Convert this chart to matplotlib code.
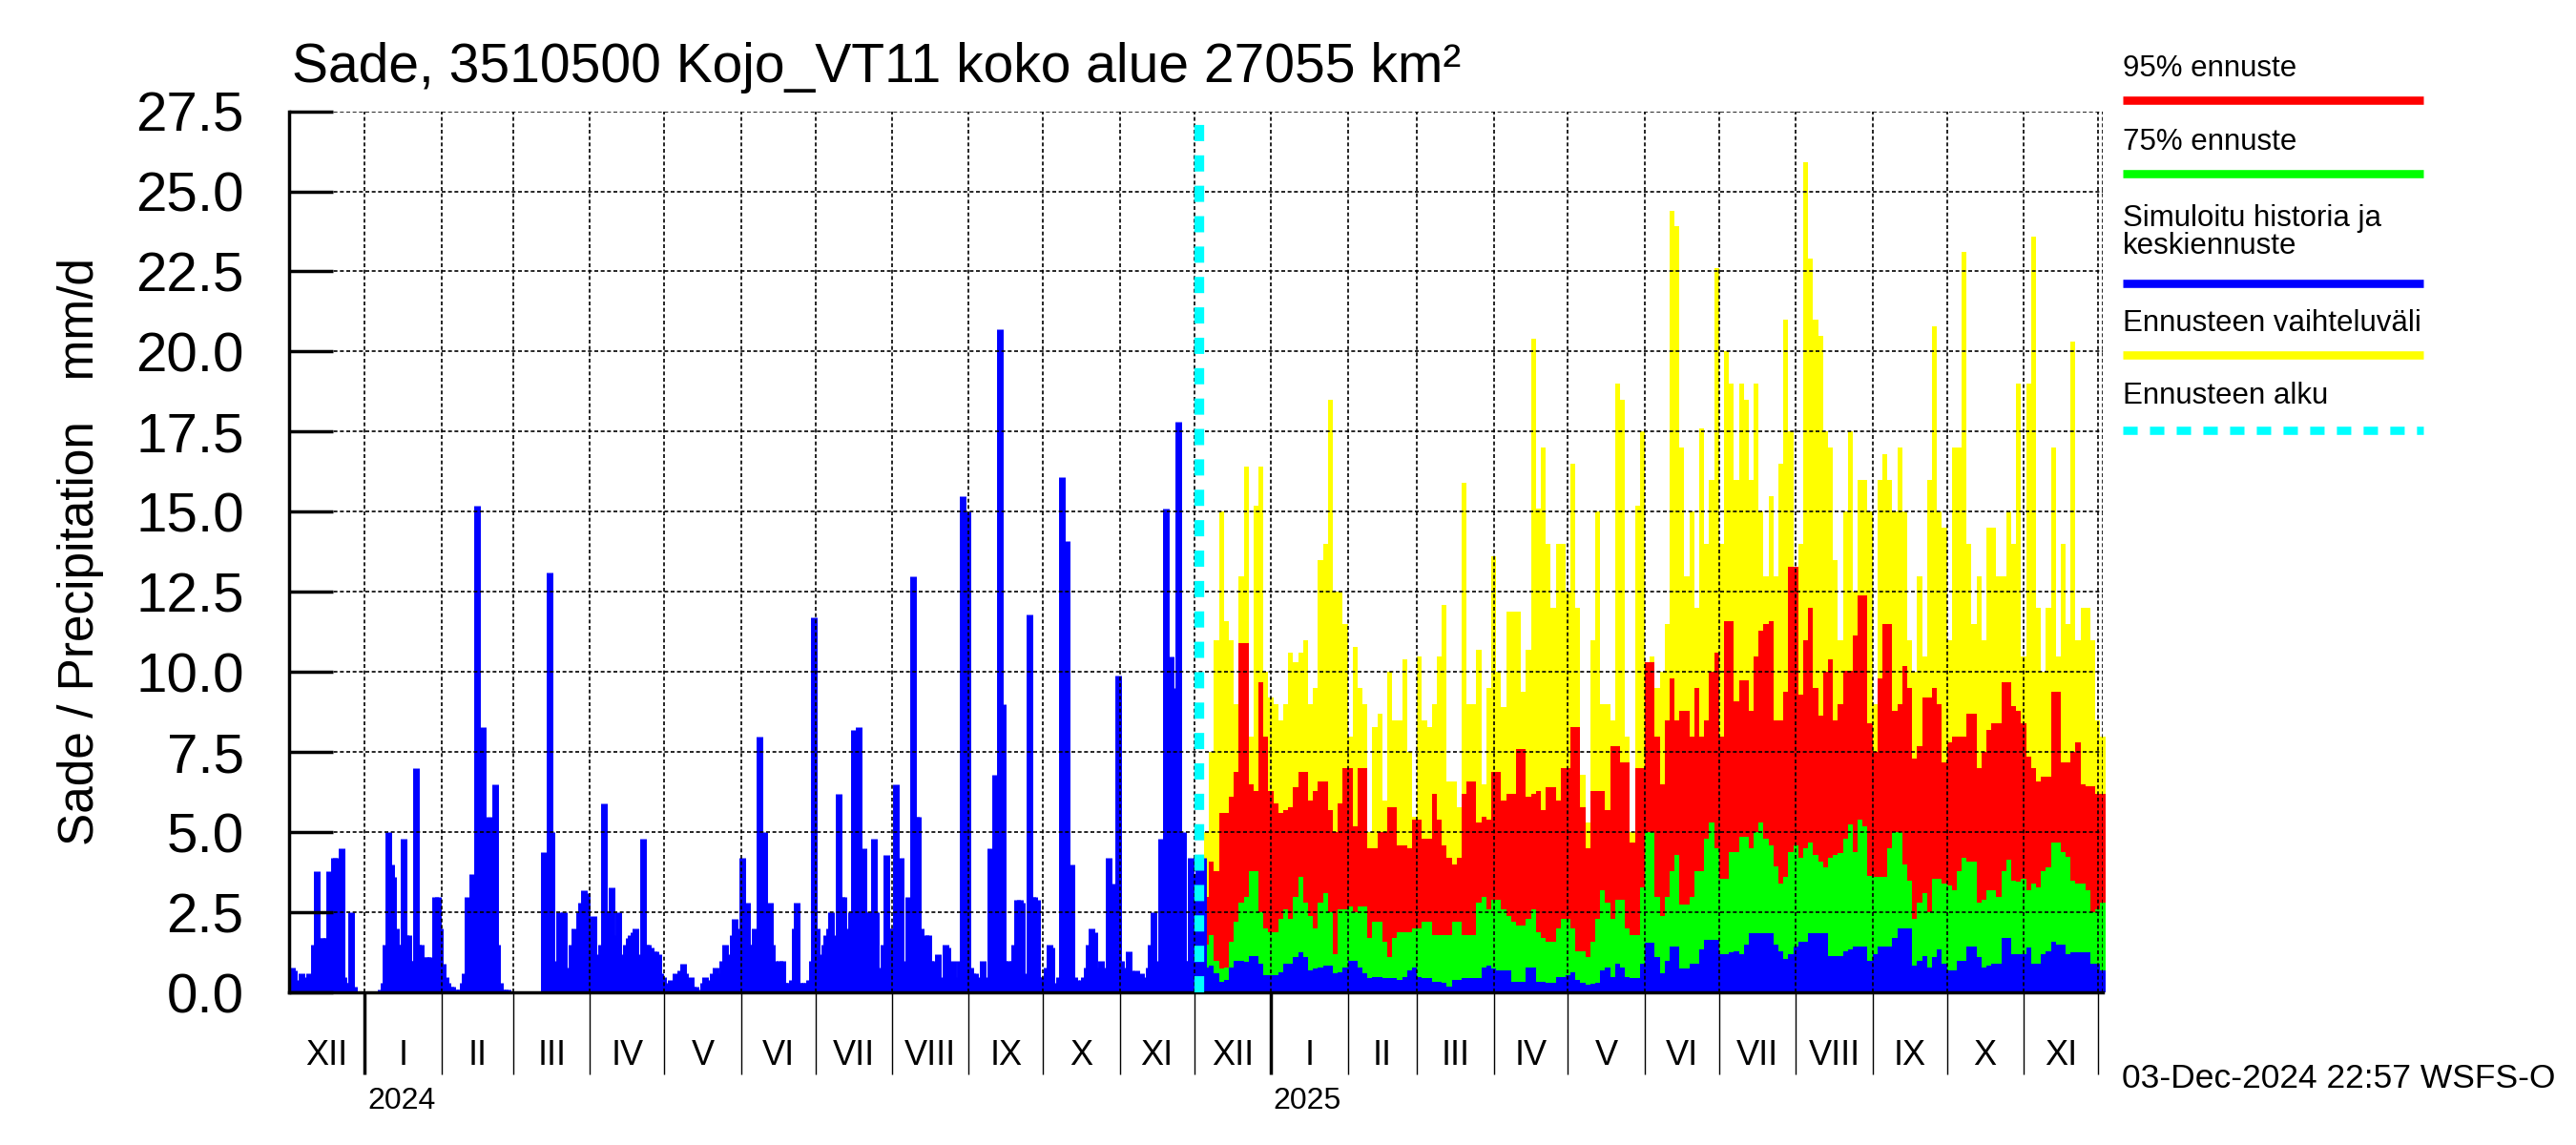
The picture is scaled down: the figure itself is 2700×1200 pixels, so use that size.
import numpy as np
import matplotlib
matplotlib.use('Agg')
import matplotlib.pyplot as plt
import matplotlib.dates as mdates
import matplotlib.transforms as mtrans
from matplotlib.lines import Line2D

FONT = 'Liberation Sans'

# --- observed / simulated history, daily mm/d ---
hist_start = np.datetime64('2023-12-01')
hist_dec23 = [0.6, 0.8, 0.7, 0.4, 0.3, 0.6, 0.2, 0.5, 0.6, 0.5, 1.5, 3.8, 0.7, 1.7, 1.7, 1.7,
              3.8, 0.7, 4.2, 4.2, 0.5, 4.5, 0.5, 0.3, 0.3, 2.5, 0.2, 0, 0, 0, 0]
hist_jan24 = [0, 0, 0, 0, 0, 0, 0.1, 0.3, 1.5, 5.0, 4.0, 3.6, 2.0, 1.5, 1.5, 4.8, 1.8, 1.8,
              1.0, 1.0, 7.0, 1.5, 1.5, 0.5, 1.1, 1.1, 1.1, 0.6, 3.0, 3.0, 2.0]
hist_feb24 = [0.9, 0.5, 0.3, 0.2, 0.2, 0.1, 0.1, 0.1, 0.3, 0.6, 3.0, 1.5, 3.7, 1.5, 15.2,
              5.4, 8.3, 5.4, 5.4, 5.5, 1.5, 6.5, 1.5, 0.3, 0.1, 0.1, 0.1, 0.05, 0.05]
hist_mar24 = [0.05, 0.05, 0.05, 0.05, 0.05, 0.05, 0.05, 0.05, 0.05, 0.05, 0.05, 0.05, 4.4,
              2.0, 13.1, 5.0, 1.0, 0.8, 2.5, 0.8, 2.5, 0.8, 0.7, 1.5, 2.0, 1.8, 2.5, 2.8,
              3.2, 3.1, 2.0]
hist_apr24 = [1.0, 2.4, 1.2, 1.0, 1.5, 5.9, 2.5, 1.5, 3.3, 1.8, 1.2, 2.5, 1.2, 0.8, 1.5, 1.7,
              1.8, 1.9, 2.0, 1.2, 0.8, 4.8, 1.5, 1.5, 1.4, 1.3, 1.3, 1.2, 0.6, 0.5]
hist_may24 = [0.3, 0.2, 0.4, 0.3, 0.6, 0.5, 0.7, 0.9, 0.6, 0.3, 0.5, 0.2, 0.2, 0.1, 0.0, 0.3,
              0.5, 0.4, 0.2, 0.6, 0.8, 0.5, 0.6, 1.0, 1.5, 1.2, 0.8, 1.8, 2.3, 1.6, 2.0]
hist_jun24 = [4.2, 2.0, 2.8, 1.5, 1.5, 2.0, 1.5, 8.0, 2.5, 5.0, 2.0, 2.8, 1.5, 1.0, 0.8, 1.0,
              1.0, 0.3, 0.3, 0.3, 0.4, 2.0, 2.8, 0.3, 0.3, 0.3, 0.3, 0.4, 1.0, 11.7]
hist_jul24 = [2.0, 1.0, 1.2, 1.5, 1.8, 2.0, 2.5, 1.8, 1.5, 6.2, 3.0, 3.0, 2.0, 1.5, 2.5, 8.2,
              4.0, 8.3, 3.0, 4.5, 2.5, 2.5, 1.5, 4.8, 2.5, 0.5, 0.8, 1.5, 4.3, 1.5, 2.0]
hist_aug24 = [2.0, 6.5, 1.5, 4.2, 1.0, 0.5, 3.0, 1.5, 13.0, 5.5, 5.5, 2.0, 0.5, 1.8, 1.8,
              1.0, 0.8, 1.0, 1.2, 0.3, 0.5, 1.5, 1.4, 0.5, 1.0, 0.3, 0.5, 1.0, 15.5, 3.0, 15.0]
hist_sep24 = [0.8, 0.6, 0.6, 0.3, 0.5, 1.0, 0.5, 0.3, 4.5, 4.0, 6.8, 3.0, 20.7, 9.0, 1.0,
              1.0, 0.6, 1.0, 1.5, 2.9, 2.9, 2.8, 0.4, 0.6, 11.8, 3.0, 3.0, 2.9, 0.5, 0.5]
hist_oct24 = [0.3, 0.8, 1.5, 1.4, 0.3, 0.2, 0.5, 16.1, 8.0, 14.1, 3.5, 4.0, 0.5, 0.4, 0.3,
              0.4, 0.5, 0.8, 1.5, 2.0, 1.9, 0.5, 0.8, 1.0, 0.5, 0.8, 4.2, 2.0, 3.4, 3.0, 9.9]
hist_nov24 = [1.0, 0.6, 0.8, 1.3, 0.7, 0.6, 0.7, 0.5, 0.6, 0.5, 0.4, 0.8, 1.5, 2.5, 1.0, 0.6,
              4.8, 0.5, 15.1, 4.0, 10.5, 9.5, 4.0, 17.8, 3.0, 5.0, 1.0, 1.0, 4.2, 3.7]
hist_dec24 = [3.7, 4.2, 4.2, 4.2]

# --- forecast, 2-day steps from 5 Dec 2024 ---
fc_start = np.datetime64('2024-12-05')
fc_step = 2
fc_max = [5.0, 7.5, 11.0, 15.0, 11.6, 11.0, 9.0, 13.0, 16.4, 8.0, 15.2, 16.4, 10.0, 9.2, 9.0,
          8.5, 9.0, 10.6, 10.3, 10.6, 11.0, 9.0, 9.5, 13.5, 14.0, 18.5, 12.5, 12.5, 11.5, 8.0,
          10.8, 9.5, 9.0, 5.0, 8.3, 8.7, 6.0, 10.0, 8.5, 8.5, 10.4, 7.5, 5.5, 10.5, 8.5, 8.3,
          9.0, 10.5, 12.1, 6.6, 6.6, 5.8, 15.9, 9.0, 9.0, 10.7, 6.5, 9.5, 13.6, 10.0, 8.9,
          11.9, 11.9, 11.9, 9.4, 10.7, 20.4, 15.1, 17.0, 14.0, 12.0, 14.0, 14.0, 12.5, 16.5,
          12.0, 6.8, 5.3, 11.0, 15.0, 9.0, 9.0, 8.5, 19.0, 18.5, 8.0, 5.0, 15.2, 17.5, 10.1,
          10.5, 9.5, 10.0, 11.5, 24.4, 23.9, 17.0, 13.0, 15.0, 12.0, 17.6, 14.0, 16.0, 22.6,
          14.0, 20.0, 19.0, 16.0, 19.0, 18.5, 16.0, 19.0, 15.0, 13.0, 15.5, 13.0, 16.5, 21.0,
          17.5, 13.0, 14.0, 25.9, 22.9, 21.0, 20.5, 17.5, 17.0, 13.5, 11.0, 15.0, 17.5, 12.5,
          16.0, 16.0, 15.0, 9.0, 16.0, 16.8, 16.0, 15.0, 17.0, 15.0, 11.0, 10.0, 13.0, 10.5,
          16.0, 20.8, 15.0, 14.5, 11.0, 17.0, 17.0, 23.1, 14.0, 11.5, 13.0, 11.0, 14.5, 14.5,
          13.0, 13.0, 15.0, 14.0, 19.0, 10.5, 19.0, 23.6, 12.0, 10.0, 12.0, 17.0, 10.5, 14.0,
          11.5, 20.3, 11.0, 12.0, 12.0, 11.0, 8.5, 8.0]
fc_95 = [3.0, 4.1, 3.8, 5.6, 5.6, 6.1, 6.9, 10.9, 10.9, 6.5, 6.3, 9.7, 8.0, 6.3, 5.9, 5.6,
         5.7, 5.8, 6.4, 6.9, 6.9, 6.0, 6.3, 6.6, 6.6, 5.7, 5.0, 5.9, 7.0, 7.0, 5.2, 7.0, 7.0,
         4.5, 4.5, 5.0, 5.0, 5.8, 5.8, 4.6, 4.6, 4.5, 5.4, 5.4, 4.8, 4.8, 6.2, 5.4, 4.6, 4.2,
         4.0, 4.2, 6.2, 6.6, 6.6, 5.3, 5.5, 5.4, 6.9, 6.9, 6.0, 6.2, 6.2, 7.6, 7.6, 6.1, 6.2,
         6.3, 5.7, 6.4, 6.4, 6.0, 7.0, 7.0, 8.3, 8.3, 5.8, 4.5, 6.3, 6.3, 6.3, 5.7, 7.7, 7.7,
         7.2, 7.2, 4.7, 7.0, 7.0, 10.3, 10.3, 8.0, 6.5, 8.5, 9.8, 8.5, 8.8, 8.8, 8.0, 9.5, 8.0,
         8.5, 10.0, 10.6, 8.0, 11.6, 11.6, 9.1, 9.75, 9.75, 8.8, 10.5, 11.3, 11.5, 11.6, 8.5,
         8.5, 9.4, 13.3, 13.3, 9.3, 11.0, 12.0, 9.5, 8.65, 10.0, 10.4, 8.5, 9.0, 10.05, 10.05,
         11.15, 12.4, 12.4, 8.4, 7.5, 9.8, 11.5, 11.5, 8.8, 9.0, 10.2, 9.5, 7.3, 7.7, 9.2, 9.2,
         9.5, 9.0, 7.2, 7.8, 8.0, 8.0, 8.0, 8.7, 8.7, 7.0, 7.5, 8.2, 8.4, 8.4, 9.7, 9.7, 8.95,
         8.8, 8.4, 7.35, 7.0, 6.6, 6.75, 6.75, 9.4, 9.4, 7.2, 7.2, 7.5, 7.8, 6.5, 6.45, 6.45,
         6.2, 6.2]
fc_75 = [1.5, 1.8, 1.0, 0.75, 0.8, 1.6, 2.2, 2.8, 3.0, 3.8, 3.8, 2.5, 2.0, 1.9, 1.9, 2.3,
         2.6, 2.3, 3.0, 3.6, 2.8, 2.4, 2.0, 2.8, 3.1, 2.5, 1.2, 2.6, 2.6, 2.7, 2.5, 2.7, 2.7,
         1.7, 2.2, 2.2, 1.6, 1.1, 1.7, 1.9, 1.9, 1.9, 2.0, 2.0, 2.2, 2.2, 1.8, 1.8, 1.8, 1.8,
         2.2, 2.2, 1.8, 1.8, 1.8, 2.8, 3.0, 2.6, 2.9, 2.9, 2.6, 2.4, 2.2, 2.1, 2.1, 2.3, 2.6,
         1.9, 1.7, 1.6, 1.6, 2.0, 2.3, 2.3, 2.0, 1.3, 1.3, 1.1, 1.6, 2.3, 3.2, 2.8, 2.3, 2.9,
         2.9, 2.0, 1.8, 1.8, 3.3, 5.0, 5.0, 3.0, 2.4, 3.0, 3.8, 4.3, 2.75, 2.75, 3.0, 3.8, 3.8,
         4.8, 5.3, 4.5, 3.55, 3.55, 4.4, 4.4, 4.85, 4.85, 4.5, 5.0, 5.3, 4.8, 4.6, 3.95, 3.4,
         3.6, 4.4, 4.6, 4.2, 4.5, 4.7, 4.3, 4.1, 3.9, 4.2, 4.3, 4.35, 4.8, 5.25, 4.4, 5.4, 5.2,
         3.65, 3.6, 3.6, 3.6, 4.5, 5.0, 5.0, 4.0, 3.5, 2.3, 2.8, 3.1, 2.5, 3.55, 3.55, 3.4,
         3.35, 3.2, 3.8, 4.2, 4.1, 4.1, 2.8, 2.9, 3.2, 3.2, 3.0, 3.8, 4.15, 3.5, 3.45, 3.55,
         3.2, 3.4, 3.3, 3.8, 3.9, 4.7, 4.7, 4.4, 4.25, 3.5, 3.4, 3.4, 3.2, 2.5, 2.6, 2.8]
fc_mid = [0.8, 0.85, 0.6, 0.35, 0.4, 0.8, 1.0, 1.0, 0.95, 1.15, 1.15, 0.9, 0.55, 0.55, 0.55,
          0.65, 0.9, 0.9, 1.1, 1.25, 1.1, 0.7, 0.75, 0.8, 0.85, 0.85, 0.6, 0.65, 0.8, 1.0, 1.0,
          0.8, 0.6, 0.45, 0.5, 0.5, 0.45, 0.45, 0.45, 0.4, 0.5, 0.7, 0.8, 0.5, 0.45, 0.45,
          0.35, 0.35, 0.3, 0.2, 0.4, 0.4, 0.45, 0.45, 0.45, 0.45, 0.8, 0.85, 0.75, 0.7, 0.7,
          0.7, 0.35, 0.35, 0.35, 0.8, 0.8, 0.35, 0.35, 0.3, 0.3, 0.5, 0.5, 0.55, 0.65, 0.4,
          0.3, 0.25, 0.28, 0.3, 0.7, 0.8, 0.5, 0.9, 0.8, 0.5, 0.45, 0.45, 0.9, 1.55, 1.55, 1.1,
          0.6, 1.0, 1.45, 1.45, 0.75, 0.75, 0.9, 0.9, 1.35, 1.65, 1.65, 1.65, 1.2, 1.2, 1.25,
          1.3, 1.2, 1.5, 1.85, 1.85, 1.85, 1.85, 1.85, 1.5, 1.3, 1.05, 1.2, 1.45, 1.6, 1.6,
          1.85, 1.85, 1.85, 1.85, 1.15, 1.15, 1.15, 1.3, 1.35, 1.45, 1.45, 1.45, 1.0, 1.2,
          1.45, 1.45, 1.45, 1.7, 2.0, 2.0, 2.0, 0.85, 1.0, 1.15, 0.8, 1.1, 1.35, 0.9, 0.7, 0.7,
          1.0, 1.0, 1.45, 1.45, 1.1, 0.8, 0.85, 0.9, 0.9, 1.7, 1.7, 1.2, 1.2, 1.2, 1.4, 0.9,
          0.9, 1.2, 1.3, 1.6, 1.5, 1.5, 1.2, 1.25, 1.25, 1.25, 1.25, 0.9, 0.9, 0.7]

forecast_line = np.datetime64('2024-12-03')
x_left = np.datetime64('2023-12-01T10:00')
x_right = np.datetime64('2025-12-03')

roman = ['I', 'II', 'III', 'IV', 'V', 'VI', 'VII', 'VIII', 'IX', 'X', 'XI', 'XII']

legend_labels = ['95% ennuste', '75% ennuste', 'Simuloitu historia ja\nkeskiennuste',
                 'Ennusteen vaihteluväli', 'Ennusteen alku']
legend_colors = ['#ff0000', '#00ff00', '#0000ff', '#ffff00', '#00ffff']

hist = np.array(hist_dec23 + hist_jan24 + hist_feb24 + hist_mar24 + hist_apr24 + hist_may24 +
                hist_jun24 + hist_jul24 + hist_aug24 + hist_sep24 + hist_oct24 + hist_nov24 +
                hist_dec24)
hist_x = mdates.date2num(hist_start + np.arange(len(hist))) + 0.5
fc_edges = mdates.date2num(fc_start + np.arange(len(fc_max) + 1) * fc_step)

fig = plt.figure(figsize=(27, 12), dpi=100)
ax = fig.add_axes([0.1122, 0.133, 0.7041, 0.7699])

ax.stairs(fc_max, fc_edges, fill=True, color='#ffff00', linewidth=0, clip_on=False)
ax.stairs(fc_95, fc_edges, fill=True, color='#ff0000', linewidth=0, clip_on=False)
ax.stairs(fc_75, fc_edges, fill=True, color='#00ff00', linewidth=0, clip_on=False)
ax.stairs(fc_mid, fc_edges, fill=True, color='#0000ff', linewidth=0, clip_on=False)
# history drawn as thick daily bars (like the original "h" style plot)
ax.vlines(hist_x, 0, hist, colors='#0000ff', linewidth=5, capstyle='butt')

ax.axvline(mdates.date2num(forecast_line), color='#00ffff', lw=7.4,
           linestyle=(0, (1.65, 1.45)), dash_capstyle='butt', zorder=3)

ax.set_xlim(mdates.date2num(x_left), mdates.date2num(x_right))
ax.set_ylim(0, 27.5)

grid_style = dict(color='black', linestyle=(0, (2.4, 1.6)), linewidth=1.2)
ax.set_axisbelow(False)
ax.xaxis.set_major_locator(mdates.YearLocator())
ax.xaxis.set_minor_locator(mdates.MonthLocator())
ax.xaxis.set_major_formatter(plt.NullFormatter())
ax.xaxis.set_minor_formatter(plt.NullFormatter())
ax.grid(True, which='both', axis='x', **grid_style)
ax.set_yticks(np.arange(0, 27.6, 2.5))
ax.yaxis.set_major_formatter(plt.FormatStrFormatter('%.1f'))
ax.grid(True, which='major', axis='y', **grid_style)
ax.axvline(mdates.date2num(x_right), **grid_style)

ax.tick_params(axis='x', which='both', direction='out', length=62)
ax.tick_params(axis='x', which='major', width=2.5)
ax.tick_params(axis='x', which='minor', width=1)
ax.tick_params(axis='y', direction='in', length=33, width=2.5, labelsize=42, pad=34)
for lab in ax.get_yticklabels():
    lab.set_fontfamily(FONT)

for side in ['top', 'right']:
    ax.spines[side].set_visible(False)
ax.spines['left'].set_linewidth(2.5)
ax.spines['bottom'].set_linewidth(2.5)

# month and year labels under the axis
trans = mtrans.blended_transform_factory(ax.transData, fig.transFigure)
months = np.arange(np.datetime64('2023-12'), np.datetime64('2025-12'), dtype='datetime64[M]')
for m in months:
    m0 = mdates.date2num(m.astype('datetime64[D]'))
    m1 = mdates.date2num((m + 1).astype('datetime64[D]'))
    ax.text((m0 + m1) / 2, 0.078, roman[m.astype(int) % 12], transform=trans,
            ha='center', va='center', fontsize=26, family=FONT)
    if m.astype(int) % 12 == 0:
        ax.text(m0 + 1, 0.038, str(m.astype('datetime64[Y]')), transform=trans,
                ha='left', va='center', fontsize=23, family=FONT)

ax.set_ylabel('Sade / Precipitation   mm/d', fontsize=37, family=FONT)
ax.yaxis.set_label_coords(-0.102, 0.5)
fig.text(0.1135, 0.941, 'Sade, 3510500 Kojo_VT11 koko alue 27055 km²', fontsize=41,
         family=FONT, ha='left', va='center')
fig.text(0.992, 0.058, '03-Dec-2024 22:57 WSFS-O', fontsize=25.5, family=FONT,
         ha='right', va='center')

# legend to the right of the axes
text_y = [0.940, 0.8757, 0.7970, 0.7171, 0.6543]
line_y = [0.9129, 0.8486, 0.7529, 0.6900, 0.6243]
for lab, col, ty, ly in zip(legend_labels, legend_colors, text_y, line_y):
    fig.text(0.824, ty, lab, fontsize=22.5, family=FONT, ha='left', va='center',
             linespacing=0.95)
    style = (0, (1.75, 1.5)) if col == '#00ffff' else '-'
    fig.add_artist(Line2D([0.824, 0.9407], [ly, ly], transform=fig.transFigure, color=col,
                          lw=6.2, linestyle=style, solid_capstyle='butt',
                          dash_capstyle='butt'))

fig.savefig('out.png', dpi=100)
